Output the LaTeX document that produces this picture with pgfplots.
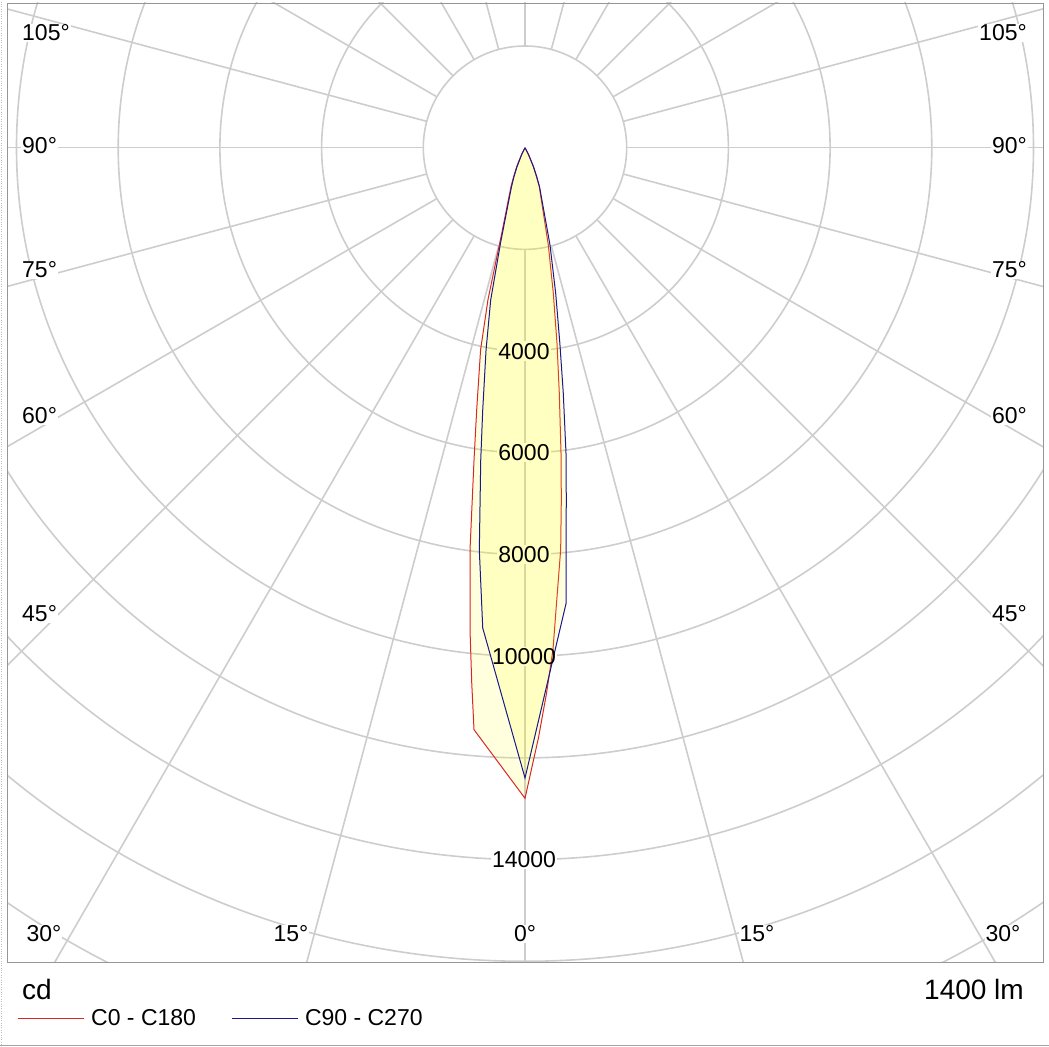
\documentclass[border=0pt]{standalone}
\usepackage{fontspec}
\setmainfont{Liberation Sans}
\usepackage{pgfplots}
\usepackage{pgfplotstable}
\pgfplotsset{compat=1.18}

\definecolor{gridc}{RGB}{205,205,205}
\definecolor{framec}{RGB}{150,150,150}
\definecolor{cred}{RGB}{215,40,40}
\definecolor{cblue}{RGB}{25,25,140}
\definecolor{lumfill}{RGB}{255,255,0}

\newcommand{\lab}{\fontsize{23bp}{27bp}\selectfont}
\newcommand{\bigf}{\fontsize{28bp}{32bp}\selectfont}

% signed gamma (negative = left half), intensity in cd
\pgfplotstableread{
g cd
-90 0
-26.5 155
-23.6 407
-21.4 615
-19.8 815
-15.2 1745
-13.7 3076
-12.4 4067
-10.45 5239
-9.28 6217
-7.79 7979
-6.51 9541
-5.69 10573
-5.01 11489
0 12795
1.31 11607
2.25 10746
3.19 9888
3.95 8989
5.07 7937
5.89 6960
6.72 6051
7.95 4877
9.29 3898
11.0 2917
13.47 1968
20.1 817
21.6 615
23.6 407
26.5 155
90 0
}\planeA

\pgfplotstableread{
g cd
-90 0
-26.0 155
-22.8 405
-20.8 612
-19.1 812
-14.4 1941
-12.7 3070
-10.9 4052
-9.16 5225
-8.07 6203
-6.48 7963
-5.03 9483
0 12396
5.14 9003
5.82 7953
6.69 6970
7.64 6064
8.86 4889
10.1 3908
11.9 2926
14.4 1976
20.4 818
22.0 615
24.1 409
27.0 155
90 0
}\planeB

\begin{document}
\begin{tikzpicture}[x=1bp,y=1bp]
\useasboundingbox (0,0) rectangle (1049,1047);

% polar grid (centre at the luminaire)
\begin{scope}
  \clip (7,85) rectangle (1043,1044);
  \foreach \k in {1,...,10}
    \draw[gridc, line width=1.6bp] (525,899.3) circle[radius={\k*101.7}];
  \foreach \a in {0,15,...,345}
    \draw[gridc, line width=1.6bp, shift={(525,899.3)}] (\a:101.7) -- (\a:1150);
\end{scope}

% blank out the grid behind the intensity labels
\foreach \v/\yy in {4000/695.9, 6000/594.2, 8000/492.5, 10000/390.8, 14000/187.4}
  \node[fill=white, text=white, inner sep=1.5bp, font=\lab] at (524,\yy) {\v};

\begin{axis}[
    at={(7bp,85bp)}, anchor=south west,
    x=0.05085bp, y=0.05085bp,
    xmin=-10187, xmax=10187, ymin=-16014, ymax=2846,
    ticks=none,
    axis line style={framec, line width=0.8bp},
    legend columns=2,
    legend style={at={(axis description cs:0.00965,-0.0584)}, anchor=west,
        draw=none, fill=none, inner sep=0pt, font=\lab,
        nodes={inner sep=0pt},
        /tikz/every odd column/.append style={column sep=7bp},
        /tikz/every even column/.append style={column sep=35bp}},
    legend image code/.code={\draw[#1] (0bp,0bp) -- (66bp,0bp);},
]
\addplot[cred, line width=1bp, fill=lumfill, fill opacity=0.13, data cs=polar]
    table[x expr={270+\thisrow{g}}, y=cd] {\planeA};
\addlegendentry{C0 - C180}
\addplot[cblue, line width=1bp, fill=lumfill, fill opacity=0.13, data cs=polar]
    table[x expr={270+\thisrow{g}}, y=cd] {\planeB};
\addlegendentry{C90 - C270}
\end{axis}

% intensity label text on top of the curves
\foreach \v/\yy in {4000/695.9, 6000/594.2, 8000/492.5, 10000/390.8, 14000/187.4}
  \node[inner sep=1.5bp, font=\lab] at (524,\yy) {\v};

% angle labels
\foreach \t/\yy in {105/1014, 90/901, 75/777, 60/631, 45/433} {
  \node[anchor=west, fill=white, inner sep=1bp, font=\lab] at (21,\yy) {\t°};
  \node[anchor=east, fill=white, inner sep=1bp, font=\lab] at (1028,\yy) {\t°};
}
\foreach \t/\xx in {30/44, 15/291, 0/525, 15/757, 30/1003}
  \node[fill=white, inner sep=1bp, font=\lab] at (\xx,113) {\t°};

\node[anchor=base west, inner sep=0pt, font=\bigf] at (22,47) {cd};
\node[anchor=base east, inner sep=0pt, font=\bigf] at (1024,47) {1400 lm};

\draw[gray!70, line width=1bp] (0,1.5) -- (1049,1.5);
\draw[gray!50, dotted] (1,0) -- (1,1047);
\end{tikzpicture}
\end{document}
